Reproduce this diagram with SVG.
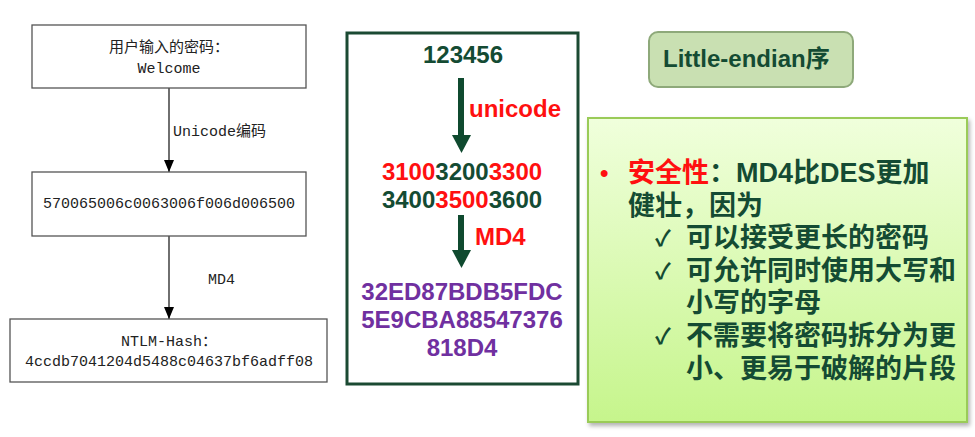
<svg xmlns="http://www.w3.org/2000/svg" width="975" height="437" viewBox="0 0 975 437">
<style>
.box{fill:#fff;stroke:#555;stroke-width:1.3}
.mono{font-family:"Liberation Mono","Noto Sans CJK SC",monospace;font-size:15px;fill:#222}
.b{font-family:"Liberation Sans","Noto Sans CJK SC",sans-serif;font-weight:bold}
.dg{fill:#144b33}
.rd{fill:#ff1010}
.pu{fill:#7030a0}
.conn{stroke:#333;stroke-width:1.4;fill:none}
.arr{fill:#0f4a2f}
</style>
<defs>
<marker id="ah" markerWidth="12" markerHeight="10" refX="12" refY="5" orient="auto" markerUnits="userSpaceOnUse" viewBox="0 0 12 10">
<path d="M0,0 L12,5 L0,10 Z" fill="#000"/>
</marker>
<linearGradient id="gg" x1="0" y1="0" x2="0" y2="1">
<stop offset="0" stop-color="#f0ffdc"/>
<stop offset="1" stop-color="#c6f58c"/>
</linearGradient>
<filter id="sh" x="-5%" y="-5%" width="115%" height="115%">
<feDropShadow dx="2" dy="3" stdDeviation="2" flood-color="#000" flood-opacity="0.3"/>
</filter>
</defs>
<rect width="975" height="437" fill="#fff"/>

<g id="connectors">
<line class="conn" x1="169" y1="88" x2="169" y2="172" marker-end="url(#ah)"/>
<text class="mono" x="173" y="136">Unicode编码</text>
<line class="conn" x1="169" y1="236" x2="169" y2="319" marker-end="url(#ah)"/>
<text class="mono" x="208" y="284">MD4</text>
</g>

<g id="node-input">
<rect class="box" x="32" y="25" width="274" height="63"/>
<text class="mono" x="169" y="52" text-anchor="middle">用户输入的密码：</text>
<text class="mono" x="169" y="73" text-anchor="middle">Welcome</text>
</g>
<g id="node-unicode">
<rect class="box" x="32" y="172" width="274" height="64"/>
<text class="mono" x="169" y="208" text-anchor="middle">570065006c0063006f006d006500</text>
</g>
<g id="node-hash">
<rect class="box" x="10" y="319" width="317" height="63"/>
<text class="mono" x="169" y="346" text-anchor="middle">NTLM-Hash：</text>
<text class="mono" x="169" y="366" text-anchor="middle">4ccdb7041204d5488c04637bf6adff08</text>
</g>

<g id="node-example">
<rect x="347" y="33" width="231" height="351" fill="#fff" stroke="#1b4a33" stroke-width="3"/>
<text class="b dg" x="463" y="63" font-size="24" text-anchor="middle">123456</text>
<rect class="arr" x="458" y="78" width="6" height="58"/>
<path class="arr" d="M452,135 L471,135 L461.5,153 Z"/>
<text class="b rd" x="469" y="117" font-size="24">unicode</text>
<text class="b" x="462" y="180" font-size="24" text-anchor="middle"><tspan class="rd">3100</tspan><tspan class="dg">3200</tspan><tspan class="rd">3300</tspan></text>
<text class="b" x="462" y="208" font-size="24" text-anchor="middle"><tspan class="dg">3400</tspan><tspan class="rd">3500</tspan><tspan class="dg">3600</tspan></text>
<rect class="arr" x="458" y="215" width="6" height="36"/>
<path class="arr" d="M452,250 L471,250 L461.5,268 Z"/>
<text class="b rd" x="475" y="245" font-size="24">MD4</text>
<text class="b pu" x="462" y="300" font-size="24" text-anchor="middle">32ED87BDB5FDC</text>
<text class="b pu" x="462" y="328" font-size="24" text-anchor="middle">5E9CBA88547376</text>
<text class="b pu" x="462" y="356" font-size="24" text-anchor="middle">818D4</text>
</g>

<g id="node-endian">
<rect x="649" y="32" width="204" height="55" rx="9" fill="#c9e0b2" stroke="#8ea97a" stroke-width="2"/>
<text class="b dg" x="663" y="67" font-size="24">Little-endian序</text>
</g>

<g id="node-security">
<rect x="588" y="118" width="379" height="304" fill="url(#gg)" stroke="#9acb58" stroke-width="2" filter="url(#sh)"/>
<text class="b rd" x="600" y="181" font-size="24">•</text>
<text class="b" x="628" y="182" font-size="27"><tspan class="rd">安全性</tspan><tspan class="dg">：MD4比DES更加</tspan></text>
<text class="b dg" x="628" y="215" font-size="27">健壮，因为</text>
<text class="b dg" x="655" y="246" font-size="22">✓</text>
<text class="b dg" x="686" y="247" font-size="27">可以接受更长的密码</text>
<text class="b dg" x="655" y="279" font-size="22">✓</text>
<text class="b dg" x="686" y="280" font-size="27">可允许同时使用大写和</text>
<text class="b dg" x="686" y="312" font-size="27">小写的字母</text>
<text class="b dg" x="655" y="344" font-size="22">✓</text>
<text class="b dg" x="686" y="345" font-size="27">不需要将密码拆分为更</text>
<text class="b dg" x="686" y="378" font-size="27">小、更易于破解的片段</text>
</g>
</svg>
